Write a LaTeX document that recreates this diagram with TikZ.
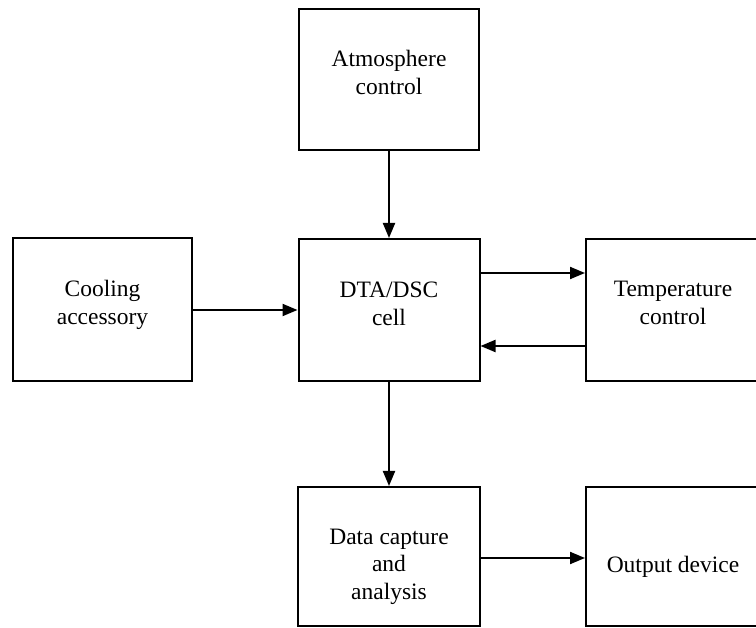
\documentclass[tikz,border=0pt]{standalone}
\usepackage{fontspec}
\setmainfont{Liberation Serif}
\usetikzlibrary{arrows.meta}

\begin{document}
\begin{tikzpicture}[x=1pt,y=-1pt,>={Triangle[length=15pt,width=12pt]},
  unit/.style={draw,line width=2pt,inner sep=0pt},
  txt/.style={align=center,font=\fontsize{23.5}{27.5}\selectfont},
  link/.style={->,line width=2pt}]
\useasboundingbox (0,0) rectangle (756,628);
% blocks
\node[unit,minimum width=180pt,minimum height=141pt,
  label={[txt,yshift=7pt]center:Atmosphere\\control}] (atmos) at (389,79.5) {};
\node[unit,minimum width=179pt,minimum height=143pt,
  label={[txt,yshift=5pt]center:Cooling\\accessory}] (cool) at (102.5,310) {};
\node[unit,minimum width=181pt,minimum height=142pt,
  label={[txt,yshift=6pt]center:DTA/DSC\\cell}] (cell) at (389,310) {};
\node[unit,minimum width=174pt,minimum height=142pt,
  label={[txt,yshift=7pt]center:Temperature\\control}] (temp) at (673,310) {};
\node[unit,minimum width=182pt,minimum height=139pt,
  label={[txt,yshift=-10pt]center:Data capture\\and\\analysis}] (data) at (389,556.5) {};
\node[unit,minimum width=174pt,minimum height=139pt,
  label={[txt,yshift=-10pt]center:Output device}] (out) at (673,556.5) {};
% connections
\draw[link] (atmos.south) -- (cell.north);
\draw[link] (cool.east) -- (cell.west);
\draw[link] ([yshift=37pt]cell.east) -- ([yshift=37pt]temp.west);
\draw[link] ([yshift=-36pt]temp.west) -- ([yshift=-36pt]cell.east);
\draw[link] (cell.south) -- (data.north);
\draw[link] ([yshift=-1.5pt]data.east) -- ([yshift=-1.5pt]out.west);
\end{tikzpicture}
\end{document}
